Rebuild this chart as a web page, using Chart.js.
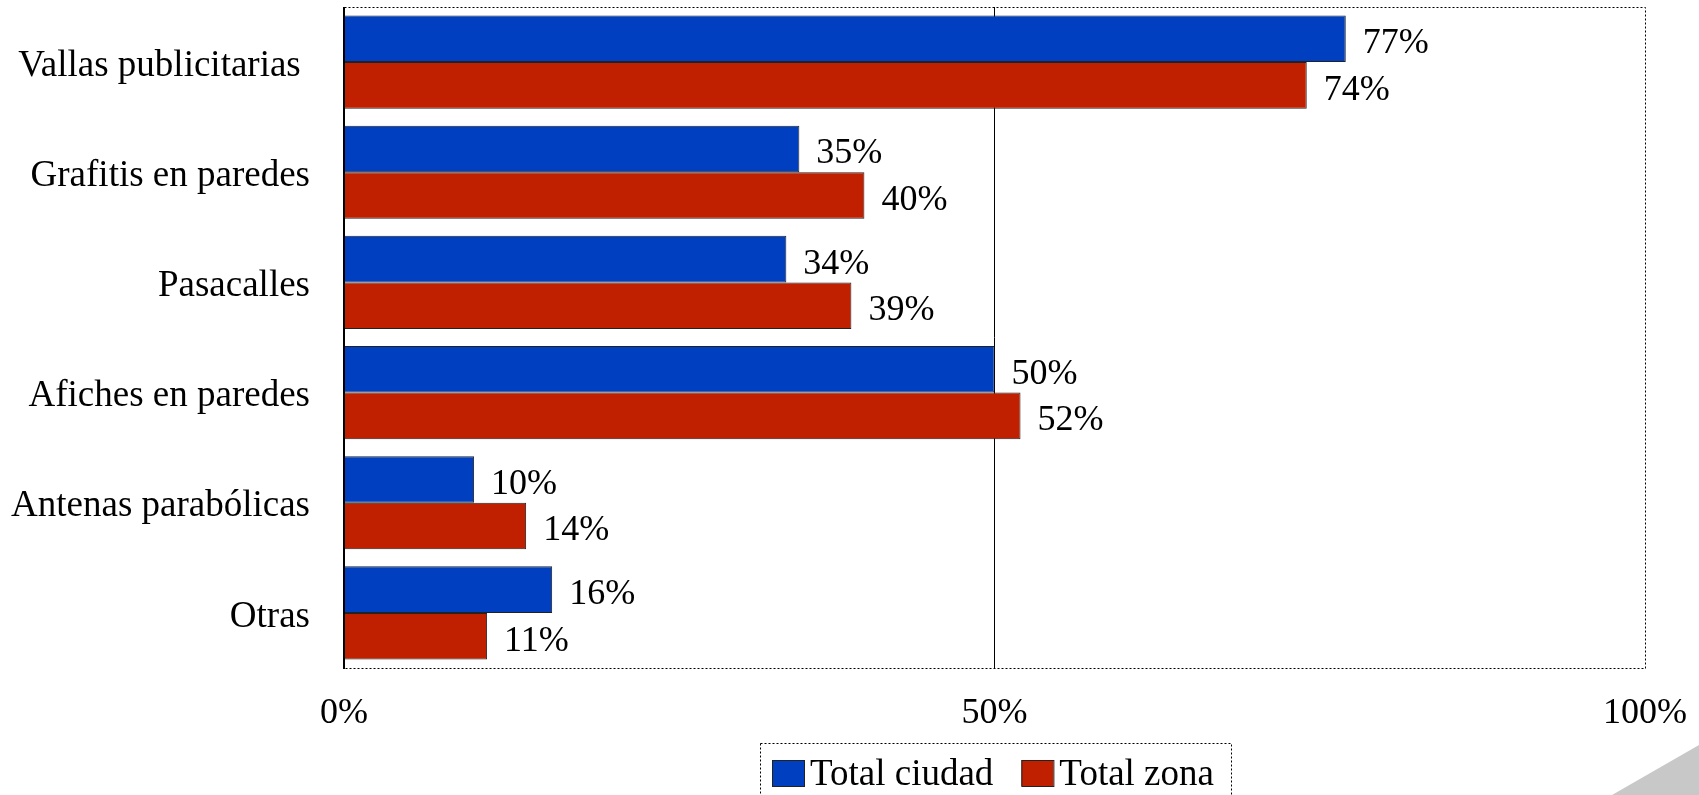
<!DOCTYPE html>
<html>
<head>
<meta charset="utf-8">
<script src="https://cdn.jsdelivr.net/npm/chart.js@4/dist/chart.umd.min.js"></script>
<style>
  html, body { margin: 0; padding: 0; background: #fff; }
  #grafico { display: block; }
</style>
</head>
<body>
<canvas id="grafico" width="1699" height="795"></canvas>
<script>
// data
var categorias = ['Vallas publicitarias ', 'Grafitis en paredes', 'Pasacalles', 'Afiches en paredes', 'Antenas parabólicas', 'Otras'];
var totalCiudad = [77, 35, 34, 50, 10, 16];
var totalZona = [74, 40, 39, 52, 14, 11];
var ticksX = [0, 50, 100];

var fuente = 'Liberation Serif, Times New Roman, serif';
var azul = '#0040c0';
var rojo = '#c02000';

// frame of the plot: dotted box plus solid left axis
var marco = {
    id: 'marco',
    beforeDatasetsDraw: function(chart) {
        var a = chart.chartArea;
        var ctx = chart.ctx;
        ctx.save();
        ctx.strokeStyle = '#000';
        ctx.lineWidth = 1;
        ctx.setLineDash([2, 2]);
        ctx.strokeRect(a.left + 0.5, a.top + 0.5, a.right - a.left, a.bottom - a.top);
        ctx.restore();
    },
    afterDatasetsDraw: function(chart) {
        var a = chart.chartArea;
        var ctx = chart.ctx;
        ctx.save();
        ctx.strokeStyle = '#000';
        ctx.lineWidth = 2;
        ctx.beginPath();
        ctx.moveTo(a.left, a.top);
        ctx.lineTo(a.left, a.bottom + 1);
        ctx.stroke();
        ctx.restore();
    }
};

// percent labels at the end of each bar
var etiquetas = {
    id: 'etiquetas',
    afterDatasetsDraw: function(chart) {
        var ctx = chart.ctx;
        ctx.save();
        ctx.font = '36px ' + fuente;
        ctx.fillStyle = '#000';
        ctx.textAlign = 'left';
        ctx.textBaseline = 'middle';
        chart.data.datasets.forEach(function(ds, i) {
            var meta = chart.getDatasetMeta(i);
            meta.data.forEach(function(bar, j) {
                ctx.fillText(ds.data[j] + '%', bar.x + 17, bar.y + 5);
            });
        });
        ctx.restore();
    }
};

// legend in a dotted box under the axis
var leyenda = {
    id: 'leyenda',
    afterDraw: function(chart) {
        var ctx = chart.ctx;
        ctx.save();
        ctx.strokeStyle = '#000';
        ctx.lineWidth = 1;
        ctx.setLineDash([2, 2]);
        ctx.strokeRect(760.5, 743.5, 471, 80);
        ctx.setLineDash([]);
        ctx.font = '37px ' + fuente;
        ctx.textBaseline = 'alphabetic';
        var x = 772;
        chart.data.datasets.forEach(function(ds) {
            ctx.fillStyle = ds.backgroundColor;
            ctx.fillRect(x, 760, 32, 26);
            ctx.strokeStyle = '#222';
            ctx.strokeRect(x + 0.5, 760.5, 32, 26);
            ctx.fillStyle = '#000';
            ctx.fillText(ds.label, x + 38, 785);
            x += 38 + ctx.measureText(ds.label).width + 28;
        });
        // grey corner at the bottom right
        ctx.fillStyle = '#c8c8c8';
        ctx.beginPath();
        ctx.moveTo(1612, 795);
        ctx.lineTo(1699, 745);
        ctx.lineTo(1699, 795);
        ctx.closePath();
        ctx.fill();
        ctx.restore();
    }
};

var graph = new Chart(document.getElementById('grafico'), {
    type: 'bar',
    data: {
        labels: categorias,
        datasets: [{
            label: 'Total ciudad',
            data: totalCiudad,
            backgroundColor: azul,
            borderColor: '#222',
            borderWidth: 1,
            categoryPercentage: 0.845,
            barPercentage: 1
        }, {
            label: 'Total zona',
            data: totalZona,
            backgroundColor: rojo,
            borderColor: '#222',
            borderWidth: 1,
            categoryPercentage: 0.845,
            barPercentage: 1
        }]
    },
    options: {
        indexAxis: 'y',
        responsive: false,
        animation: false,
        layout: { padding: { top: 7, right: 54, left: 0, bottom: 67 } },
        plugins: {
            legend: { display: false },
            tooltip: { enabled: false }
        },
        scales: {
            x: {
                min: 0,
                max: 100,
                afterBuildTicks: function(scale) {
                    scale.ticks = ticksX.map(function(v) { return { value: v }; });
                },
                afterFit: function(scale) {
                    scale.height = 60;
                    scale.paddingLeft = 0;
                    scale.paddingRight = 0;
                },
                border: { display: false },
                grid: {
                    drawTicks: false,
                    color: function(c) { return c.tick && c.tick.value === 50 ? '#000' : 'rgba(0,0,0,0)'; },
                    lineWidth: 1
                },
                ticks: {
                    padding: 24,
                    color: '#000',
                    font: { family: fuente, size: 36 },
                    maxRotation: 0,
                    callback: function(v) { return v + '%'; }
                }
            },
            y: {
                afterFit: function(scale) {
                    scale.width = 344;
                    scale.paddingTop = 0;
                    scale.paddingBottom = 0;
                },
                border: { display: false },
                grid: { display: false, drawTicks: false },
                ticks: {
                    padding: 34,
                    labelOffset: 4,
                    color: '#000',
                    font: { family: fuente, size: 37 }
                }
            }
        }
    },
    plugins: [marco, etiquetas, leyenda]
});
</script>
</body>
</html>
